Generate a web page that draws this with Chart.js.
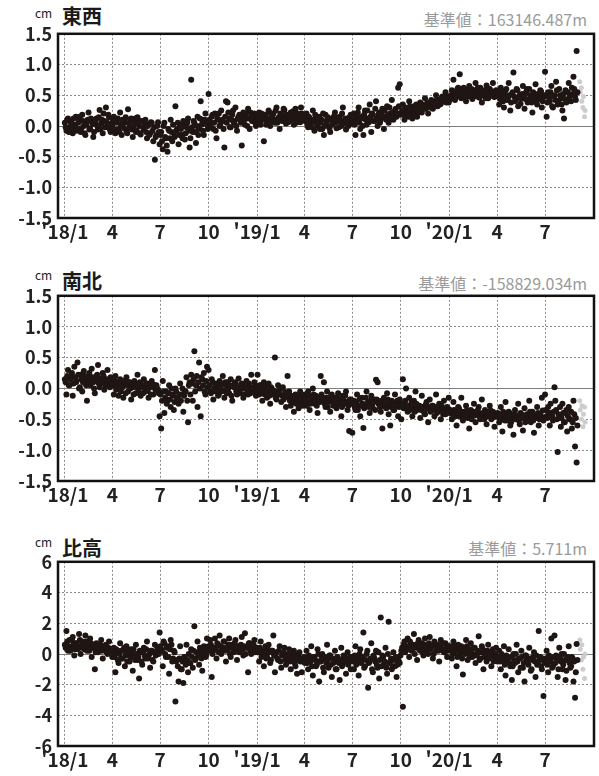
<!DOCTYPE html>
<html lang="ja">
<head>
<meta charset="UTF-8">
<title>GNSS 基線変化</title>
<script src="https://cdn.jsdelivr.net/npm/chart.js@4"></script>
<style>
  body { margin: 0; background: #fff; width: 599px; height: 776px; position: relative; overflow: hidden;
         font-family: "Noto Sans CJK JP", "Noto Sans", sans-serif; }
  canvas { position: absolute; left: 0; }
  .unit, .ttl, .base { position: absolute; line-height: 1; white-space: nowrap; }
  .unit { left: 35px; font-size: 12px; color: #222; }
  .ttl { left: 62px; font-size: 20px; font-weight: bold; color: #1a1a1a; }
  .base { right: 12px; font-size: 16px; color: #9a9a9a; }
</style>
</head>
<body>
  <div class="unit" style="top:7px">cm</div>
  <div class="ttl" style="top:6px">東西</div>
  <div class="base" style="top:11px">基準値：163146.487m</div>
  <canvas id="ew" width="599" height="231" style="top:17px"></canvas>

  <div class="unit" style="top:269px">cm</div>
  <div class="ttl" style="top:271px">南北</div>
  <div class="base" style="top:275px">基準値：-158829.034m</div>
  <canvas id="ns" width="599" height="232" style="top:279px"></canvas>

  <div class="unit" style="top:536px">cm</div>
  <div class="ttl" style="top:538px">比高</div>
  <div class="base" style="top:540px">基準値：5.711m</div>
  <canvas id="ud" width="599" height="231" style="top:545px"></canvas>

<script>
// 2018/1/1 からの日数。A は 0,3,6…日、B は 1.5 日ずらした値
const sampleStep = 3;
const offsetB = 1.5;
const tickDays = [0, 90, 181, 273, 365, 455, 546, 638, 730, 821, 912];
const tickLabels = ["'18/1", "4", "7", "10", "'19/1", "4", "7", "10", "'20/1", "4", "7"];
const xMin = -13;
const xMax = 1005;

// 東西 (cm)
const ewA = [
  // 2018 1-3
  0.05,-0.08,0.12,-0.02,0.08,-0.12,0.02,0.15,-0.05,0.1,
  -0.1,0.18,0.0,-0.15,0.06,0.22,-0.04,0.1,-0.18,0.03,
  0.12,-0.06,0.26,0.04,-0.12,0.08,0.3,-0.02,0.14,-0.1,
  // 4-6
  0.02,0.15,-0.12,0.08,-0.05,0.22,-0.15,0.04,0.1,-0.08,
  0.27,-0.02,0.12,-0.18,0.06,-0.1,0.14,0.0,-0.14,0.08,
  -0.06,0.1,-0.2,0.02,-0.12,0.05,-0.25,-0.55,-0.15,0.06,
  // 7-9
  -0.3,-0.1,-0.38,0.05,-0.2,-0.42,-0.08,0.1,-0.25,-0.12,
  0.32,-0.05,-0.3,0.02,-0.15,0.08,-0.22,-0.02,0.12,-0.35,
  0.75,-0.1,0.05,-0.28,0.15,-0.05,0.4,0.1,-0.15,0.2,0.02,
  // 10-12
  0.52,0.05,0.15,-0.05,0.2,-0.2,0.1,0.0,0.25,0.08,
  -0.35,0.4,0.38,0.12,-0.02,0.18,0.05,0.3,-0.08,0.15,
  0.1,-0.32,0.22,0.02,0.12,0.28,-0.05,0.16,0.08,0.2,0.0,
  // 2019 1-3
  0.1,0.22,0.02,0.15,-0.25,0.18,0.08,0.25,0.0,0.14,
  0.2,0.05,0.3,0.1,-0.05,0.18,0.12,0.26,0.04,0.16,
  0.08,0.22,0.12,0.02,0.28,0.1,0.18,0.06,0.2,0.14,
  // 4-6
  0.08,0.2,-0.02,0.12,0.05,0.25,-0.08,0.1,0.0,0.15,
  0.05,-0.05,-0.15,0.18,0.02,0.1,-0.1,0.12,0.06,0.22,
  -0.04,0.08,0.15,0.0,0.3,0.05,-0.06,0.12,0.02,0.18,
  // 7-9
  0.05,0.2,-0.15,0.1,0.3,-0.05,0.15,-0.15,0.25,0.02,
  0.12,0.35,-0.1,0.18,0.08,0.4,0.0,0.22,0.1,0.28,
  -0.05,0.15,0.32,0.05,0.2,0.42,0.1,0.25,0.15,0.62,0.68,
  // 10-12
  0.2,0.35,0.1,0.28,0.18,0.4,0.22,0.12,0.32,0.25,
  0.15,0.3,0.38,0.22,0.28,0.45,0.3,0.2,0.35,0.42,
  0.28,0.38,0.5,0.32,0.42,0.36,0.48,0.4,0.55,0.44,0.38,
  // 2020 1-3
  0.48,0.58,0.75,0.42,0.55,0.62,0.84,0.45,0.52,0.6,
  0.4,0.55,0.65,0.5,0.44,0.58,0.7,0.48,0.53,0.62,
  0.38,0.56,0.5,0.66,0.45,0.6,0.52,0.7,0.47,0.58,
  // 4-6
  0.55,0.35,0.62,0.48,0.3,0.58,0.42,0.7,0.25,0.52,
  0.87,0.4,0.6,0.32,0.5,0.45,0.65,0.28,0.55,0.38,
  0.6,0.45,0.22,0.52,0.68,0.35,0.48,0.58,0.3,0.5,
  // 7-9
  0.88,0.15,0.55,0.4,0.65,0.3,0.5,0.72,0.35,0.6,
  0.45,0.25,0.12,0.58,0.42,0.7,0.5,0.62,0.8,0.48,1.22
];
const ewB = [
  // 2018 1-3
  -0.02,0.1,-0.1,0.06,-0.05,0.12,0.0,-0.08,0.05,0.15,
  -0.04,0.08,-0.12,0.02,0.1,-0.06,0.12,0.04,-0.1,0.08,
  0.0,0.14,-0.05,0.1,0.2,-0.02,0.06,0.18,-0.06,0.04,
  // 4-6
  0.08,-0.06,0.05,0.12,-0.1,0.02,0.1,-0.04,0.14,-0.12,
  0.04,0.1,-0.06,0.0,0.12,-0.08,0.05,-0.12,0.08,-0.02,
  0.05,-0.1,0.0,-0.15,0.06,-0.08,-0.02,-0.18,0.0,-0.1,
  // 7-9
  -0.15,-0.25,0.0,-0.18,-0.32,-0.05,-0.2,-0.1,0.02,-0.18,
  -0.08,0.05,-0.15,-0.05,-0.2,0.0,-0.12,0.05,-0.08,-0.2,
  -0.02,0.08,-0.1,0.0,-0.15,0.12,0.02,-0.08,0.1,0.05,-0.05,
  // 10-12
  0.1,-0.02,0.18,0.05,-0.08,0.12,0.2,0.02,0.1,-0.05,
  0.15,0.05,0.22,-0.02,0.1,0.25,0.08,0.0,0.12,0.18,
  0.05,0.15,0.1,0.2,0.0,0.12,0.22,0.08,0.15,0.05,0.18,
  // 2019 1-3
  0.15,0.05,0.2,0.1,0.18,0.02,0.12,0.22,0.08,0.16,
  0.1,0.25,0.05,0.14,0.2,0.08,0.28,0.12,0.18,0.06,
  0.15,0.1,0.24,0.18,0.05,0.2,0.12,0.3,0.1,0.16,
  // 4-6
  0.12,0.02,0.15,0.08,-0.02,0.1,0.18,0.04,0.12,-0.05,
  0.1,0.2,0.0,0.08,0.14,-0.04,0.1,0.02,0.16,0.06,
  0.12,-0.02,0.08,0.2,0.04,0.12,0.1,0.0,0.15,0.08,
  // 7-9
  0.1,0.02,0.15,0.22,0.05,0.12,0.0,0.18,0.1,0.25,
  0.06,0.15,0.2,0.08,0.28,0.12,0.18,0.05,0.22,0.14,
  0.25,0.1,0.18,0.3,0.12,0.22,0.15,0.28,0.2,0.32,0.18,
  // 10-12
  0.25,0.18,0.3,0.22,0.15,0.32,0.25,0.2,0.28,0.35,
  0.22,0.3,0.26,0.35,0.32,0.28,0.38,0.34,0.3,0.4,
  0.36,0.32,0.42,0.38,0.35,0.45,0.4,0.46,0.38,0.48,0.42,
  // 2020 1-3
  0.5,0.45,0.55,0.52,0.6,0.48,0.56,0.5,0.62,0.46,
  0.54,0.58,0.48,0.6,0.52,0.5,0.56,0.62,0.46,0.55,
  0.5,0.58,0.45,0.54,0.6,0.5,0.56,0.48,0.55,0.52,
  // 4-6
  0.5,0.44,0.56,0.4,0.52,0.6,0.45,0.5,0.38,0.55,
  0.48,0.42,0.58,0.46,0.36,0.52,0.5,0.44,0.6,0.42,
  0.5,0.38,0.55,0.46,0.4,0.52,0.44,0.56,0.4,0.48,
  // 7-9
  0.5,0.38,0.46,0.55,0.32,0.48,0.42,0.58,0.4,0.5,
  0.35,0.52,0.44,0.38,0.55,0.46,0.4,0.52,0.6,0.42,0.55
];

// 南北 (cm)
const nsA = [
  // 2018 1-3
  0.15,-0.1,0.3,0.05,0.2,-0.12,0.35,0.1,0.42,0.0,
  0.22,-0.05,0.28,0.12,-0.2,0.18,0.05,0.32,0.1,-0.08,
  0.2,0.38,0.02,0.15,0.25,-0.02,0.12,0.3,0.08,0.18,
  // 4-6
  0.1,-0.1,0.2,0.0,-0.12,0.15,0.05,-0.15,0.08,0.18,
  -0.05,0.1,-0.18,0.02,0.12,-0.08,0.22,0.0,-0.12,0.05,
  0.15,-0.05,0.08,-0.15,0.02,0.12,-0.1,0.3,0.05,-0.02,
  // 7-9
  -0.45,-0.65,0.12,-0.4,-0.05,-0.2,0.05,-0.3,-0.1,-0.35,
  0.0,-0.15,-0.25,0.08,-0.1,-0.38,-0.05,0.18,-0.55,0.1,
  0.22,-0.2,0.6,0.05,-0.3,0.42,-0.45,0.15,0.25,-0.1,0.35,
  // 10-12
  0.3,-0.05,0.15,-0.18,0.08,0.0,-0.12,0.12,-0.05,0.2,
  -0.15,0.05,0.1,-0.08,0.15,-0.2,0.02,0.1,-0.1,0.16,
  -0.02,0.08,-0.15,0.05,0.12,-0.1,0.0,0.22,-0.06,0.1,-0.12,
  // 2019 1-3
  0.22,-0.1,0.05,-0.2,0.1,-0.05,-0.15,0.08,-0.25,0.0,
  -0.1,0.5,-0.18,0.05,-0.08,-0.22,0.02,-0.12,-0.3,0.2,
  -0.05,-0.28,-0.15,-0.38,-0.1,-0.2,-0.32,-0.05,-0.25,-0.15,
  // 4-6
  -0.1,-0.28,-0.05,-0.35,-0.18,0.0,-0.25,-0.12,-0.4,-0.2,
  0.2,-0.15,0.1,-0.3,-0.05,-0.22,-0.38,-0.1,-0.28,-0.15,
  -0.32,-0.08,-0.2,-0.45,-0.12,-0.25,-0.05,-0.35,-0.69,-0.18,
  // 7-9
  -0.72,-0.2,-0.35,-0.1,-0.28,-0.45,-0.15,-0.64,-0.3,-0.05,
  -0.22,-0.4,-0.12,-0.32,-0.18,0.14,0.1,-0.25,-0.38,-0.65,
  -0.15,-0.3,-0.08,-0.42,-0.6,-0.2,-0.35,-0.1,-0.28,-0.45,-0.18,
  // 10-12
  -0.5,0.15,-0.25,0.0,-0.38,-0.15,-0.32,-0.45,-0.2,-0.05,
  -0.35,-0.28,-0.48,-0.12,-0.3,-0.42,-0.22,-0.55,-0.18,-0.35,
  -0.28,-0.45,-0.1,-0.38,-0.25,-0.5,-0.32,-0.2,-0.42,-0.3,-0.15,
  // 2020 1-3
  -0.35,-0.5,-0.22,-0.42,-0.6,-0.3,-0.45,-0.15,-0.52,-0.38,
  -0.28,-0.48,-0.65,-0.35,-0.42,-0.25,-0.55,-0.4,-0.3,-0.5,
  -0.18,-0.45,-0.35,-0.58,-0.42,-0.28,-0.5,-0.38,-0.62,-0.45,
  // 4-6
  -0.4,-0.55,-0.3,-0.7,-0.45,-0.22,-0.52,-0.38,-0.6,-0.48,
  -0.75,-0.35,-0.5,-0.25,-0.58,-0.42,-0.68,-0.32,-0.5,-0.45,
  -0.2,-0.55,-0.38,-0.72,-0.48,-0.3,-0.6,-0.42,-0.15,-0.52,
  // 7-9
  -0.1,-0.45,-0.3,-0.6,-0.4,-0.52,0.02,-0.35,-1.03,-0.48,
  -0.62,-0.25,-0.55,-0.4,-0.7,-0.3,-0.5,-0.65,-0.2,-0.94,-1.2
];
const nsB = [
  // 2018 1-3
  0.1,0.2,0.05,0.15,0.25,0.08,0.18,0.12,0.22,0.02,
  0.15,0.1,0.2,0.05,0.14,0.25,0.1,0.18,0.0,0.12,
  0.22,0.08,0.16,0.1,0.2,0.05,0.15,0.12,0.02,0.1,
  // 4-6
  0.05,0.12,-0.02,0.08,0.1,-0.05,0.02,0.12,-0.08,0.05,
  0.1,0.0,0.06,-0.1,0.08,0.02,-0.05,0.1,0.04,-0.08,
  0.0,0.08,-0.04,0.05,-0.1,0.02,0.06,-0.02,0.0,-0.08,
  // 7-9
  -0.1,-0.2,-0.05,-0.15,-0.25,-0.08,-0.18,0.0,-0.12,-0.22,
  -0.05,-0.15,-0.1,-0.2,0.0,-0.12,-0.05,-0.2,0.05,-0.1,
  0.08,0.15,-0.05,0.2,0.1,0.0,0.18,0.05,-0.05,0.12,0.02,
  // 10-12
  0.05,-0.08,0.1,0.0,-0.05,0.08,-0.1,0.02,0.06,-0.04,
  0.1,-0.08,0.0,0.05,-0.12,0.04,0.08,-0.05,0.02,-0.08,
  0.06,0.0,-0.1,0.04,-0.04,0.08,-0.08,0.02,0.0,-0.05,0.04,
  // 2019 1-3
  -0.02,0.05,-0.08,0.0,-0.1,0.04,-0.05,-0.12,0.02,-0.08,
  -0.04,-0.15,-0.05,-0.1,0.0,-0.12,-0.18,-0.06,-0.14,-0.1,
  -0.2,-0.12,-0.22,-0.15,-0.25,-0.18,-0.12,-0.22,-0.28,-0.2,
  // 4-6
  -0.15,-0.22,-0.12,-0.25,-0.18,-0.1,-0.2,-0.28,-0.15,-0.22,
  -0.1,-0.2,-0.25,-0.15,-0.3,-0.18,-0.12,-0.22,-0.2,-0.28,
  -0.15,-0.25,-0.18,-0.3,-0.2,-0.12,-0.22,-0.28,-0.18,-0.25,
  // 7-9
  -0.2,-0.3,-0.22,-0.35,-0.18,-0.28,-0.25,-0.32,-0.15,-0.25,
  -0.3,-0.2,-0.28,-0.22,-0.35,-0.18,-0.25,-0.3,-0.2,-0.28,
  -0.24,-0.32,-0.18,-0.26,-0.3,-0.22,-0.35,-0.25,-0.2,-0.3,-0.26,
  // 10-12
  -0.25,-0.32,-0.2,-0.3,-0.28,-0.35,-0.22,-0.3,-0.38,-0.25,
  -0.32,-0.28,-0.35,-0.3,-0.4,-0.26,-0.33,-0.3,-0.38,-0.28,
  -0.35,-0.3,-0.4,-0.32,-0.36,-0.28,-0.42,-0.34,-0.38,-0.32,-0.4,
  // 2020 1-3
  -0.38,-0.42,-0.35,-0.45,-0.4,-0.32,-0.44,-0.38,-0.48,-0.4,
  -0.36,-0.45,-0.42,-0.5,-0.38,-0.44,-0.4,-0.35,-0.46,-0.42,
  -0.4,-0.5,-0.38,-0.45,-0.42,-0.36,-0.48,-0.4,-0.44,-0.46,
  // 4-6
  -0.42,-0.5,-0.45,-0.38,-0.52,-0.44,-0.48,-0.4,-0.55,-0.46,
  -0.42,-0.5,-0.44,-0.52,-0.4,-0.48,-0.45,-0.55,-0.42,-0.5,
  -0.38,-0.46,-0.52,-0.44,-0.48,-0.4,-0.5,-0.45,-0.36,-0.48,
  // 7-9
  -0.35,-0.48,-0.4,-0.25,-0.45,-0.38,-0.2,-0.5,-0.42,-0.3,
  -0.48,-0.4,-0.55,-0.35,-0.45,-0.5,-0.38,-0.55,-0.42,-0.48,-0.6
];

// 比高 (cm)
const udA = [
  // 2018 1-3
  0.6,1.5,0.2,0.9,0.4,1.1,-0.1,0.7,0.3,1.3,
  0.0,0.8,0.5,1.2,0.2,0.6,1.0,-0.2,0.4,-1.0,
  0.7,0.1,0.5,0.9,-0.3,0.3,0.6,0.0,0.8,0.2,
  // 4-6
  -0.2,0.4,-1.2,0.1,-0.6,0.7,-0.3,0.2,-0.8,0.5,
  0.0,-0.5,0.3,-1.1,-0.2,0.6,-0.4,-1.6,0.1,-0.7,
  0.4,-0.3,0.8,-0.1,-0.9,0.2,-0.5,0.6,0.0,0.3,
  // 7-9
  1.4,0.3,-0.8,0.7,-0.2,0.5,-1.3,0.9,-0.5,0.2,
  -3.1,-0.4,-1.8,0.5,-1.0,-1.9,-0.2,0.6,-1.2,-0.6,
  0.3,-0.9,1.8,-0.3,0.8,-0.7,0.2,-1.1,0.5,-0.2,1.0,
  // 10-12
  0.5,0.9,-1.5,0.2,1.0,-0.3,0.6,1.2,0.0,0.4,
  0.8,-0.5,0.3,1.0,-0.2,0.6,0.1,0.9,-0.4,0.5,
  0.2,1.1,-0.1,1.35,0.4,-1.2,0.7,0.0,0.5,0.9,0.2,
  // 2019 1-3
  0.3,-0.5,0.8,0.0,-0.8,0.5,-0.2,0.6,-0.6,0.2,
  1.2,-1.2,0.1,-0.4,0.5,-0.9,0.0,0.4,-0.7,-0.2,
  0.3,-1.0,-0.4,0.2,-0.8,-1.3,0.0,-0.5,-1.2,-0.3,
  // 4-6
  -0.6,0.2,-1.0,-0.3,0.5,-1.4,-0.2,-0.8,0.3,-1.8,
  -0.5,0.0,-1.2,-0.4,0.6,-0.9,-0.1,-1.5,-0.6,0.2,
  -1.0,-0.3,-1.7,0.4,-0.7,-0.2,-1.3,0.1,-0.5,-1.0,
  // 7-9
  -0.2,-1.0,0.5,-0.6,-1.4,0.3,-0.4,1.4,-0.8,0.0,
  -2.2,-0.5,0.7,-1.2,-0.3,0.2,-0.9,-1.6,2.37,-0.1,
  -0.7,0.4,-1.3,2.1,-0.5,-1.0,0.1,-0.8,-1.5,-0.3,-0.6,
  // 10-12
  0.2,-3.45,0.8,0.4,1.0,-0.2,0.6,0.3,1.3,0.5,
  -0.4,0.9,0.2,0.7,-0.1,1.0,0.4,0.0,1.1,0.5,
  -0.3,0.8,0.2,0.6,-0.5,0.9,0.3,0.1,0.7,-0.2,0.5,
  // 2020 1-3
  0.4,-0.3,0.8,0.1,-0.8,0.6,-0.1,0.5,-1.35,0.2,
  0.9,-0.4,0.3,0.7,-0.2,0.4,-0.6,0.0,1.15,-0.3,
  0.5,-1.0,0.2,-0.5,0.6,0.0,-0.8,0.3,-0.2,0.4,
  // 4-6
  -0.5,0.2,-1.0,-0.2,0.5,-1.4,-0.4,0.3,-0.8,-1.7,
  0.0,-0.6,0.6,-1.2,-0.3,0.2,-0.9,-1.8,-0.1,-0.5,
  0.4,-1.1,-0.4,0.1,-1.5,-0.7,1.5,-0.2,-1.0,-2.75,
  // 7-9
  -0.6,0.2,-1.2,-0.3,1.0,-0.8,1.2,-0.1,-1.5,0.4,
  -0.5,-1.0,0.0,-1.7,-0.4,0.5,-0.9,-0.2,-1.8,-2.85,0.65
];
const udB = [
  // 2018 1-3
  0.4,0.8,0.5,0.2,0.9,0.6,0.3,0.7,0.5,0.9,
  0.4,0.6,0.3,0.8,0.5,0.2,0.7,0.4,0.6,0.1,
  0.5,0.3,0.6,0.2,0.4,0.5,0.1,0.4,0.3,0.2,
  // 4-6
  0.1,-0.2,0.3,-0.4,0.0,0.2,-0.3,0.4,-0.1,-0.5,
  0.2,-0.2,0.1,0.3,-0.4,0.0,-0.2,0.2,-0.5,0.1,
  -0.1,0.3,-0.3,0.0,0.2,-0.4,0.1,-0.1,0.4,0.0,
  // 7-9
  0.5,0.2,0.8,0.0,0.4,-0.2,0.3,0.6,-0.3,0.1,
  -0.5,-0.8,-0.3,-1.0,-0.5,-0.2,-0.7,-0.4,0.0,-0.6,
  -0.2,0.2,-0.4,0.1,-0.1,0.4,-0.3,0.0,0.3,-0.1,0.2,
  // 10-12
  0.2,0.6,0.0,0.4,0.3,0.7,0.1,0.5,0.3,0.8,
  0.2,0.4,0.6,0.0,0.5,0.3,0.7,0.2,0.4,0.1,
  0.6,0.3,0.5,0.0,0.4,0.7,0.2,0.3,0.6,0.1,0.4,
  // 2019 1-3
  0.1,0.4,-0.2,0.2,0.0,-0.3,0.3,0.1,-0.4,0.2,
  -0.1,0.0,-0.3,0.2,-0.5,-0.1,0.1,-0.4,-0.2,0.0,
  -0.5,-0.3,0.0,-0.6,-0.2,-0.4,0.1,-0.3,-0.5,-0.2,
  // 4-6
  -0.3,-0.6,-0.1,-0.5,-0.8,-0.2,-0.4,-0.7,0.0,-0.5,
  -0.3,-0.9,-0.2,-0.6,-0.4,-0.1,-0.7,-0.3,-0.5,-1.0,
  -0.2,-0.6,-0.4,-0.8,-0.1,-0.5,-0.3,-0.7,-0.2,-0.4,
  // 7-9
  -0.5,-0.1,-0.7,-0.3,0.0,-0.6,-0.2,-0.9,-0.4,0.2,
  -0.6,-0.3,-1.0,-0.1,-0.5,-0.7,0.1,-0.4,-0.8,-0.2,
  -0.5,-0.9,0.0,-0.6,-0.3,-0.8,-0.4,-0.2,-0.7,-0.5,-0.1,
  // 10-12
  0.4,0.6,0.1,0.5,0.3,0.8,0.2,0.6,0.0,0.4,
  0.7,0.3,0.5,0.1,0.6,0.4,0.2,0.7,0.3,0.5,
  0.0,0.6,0.4,0.2,0.5,0.3,0.7,0.1,0.4,0.2,0.5,
  // 2020 1-3
  0.3,0.0,0.5,0.2,-0.2,0.4,0.1,-0.3,0.3,0.0,
  0.5,0.1,-0.2,0.3,0.0,0.4,-0.1,0.2,-0.4,0.1,
  0.3,-0.2,0.0,0.2,-0.3,0.1,-0.1,-0.5,0.0,-0.2,
  // 4-6
  -0.2,-0.5,0.0,-0.4,-0.7,-0.1,-0.3,-0.6,-0.2,-0.8,
  -0.4,0.0,-0.5,-0.3,-0.9,-0.2,-0.6,-0.1,-0.4,-0.7,
  -0.3,-1.0,-0.2,-0.5,-0.1,-0.6,-0.4,-0.8,-0.3,-0.5,
  // 7-9
  -0.3,-0.7,-0.1,-0.5,-0.9,-0.2,-0.6,-0.4,-1.0,-0.3,
  0.0,-0.7,-0.4,-1.1,-0.2,-0.6,-0.8,-0.3,-0.5,-1.2,-0.4
];

// 速報値（灰色）
const prelimDays = [978, 979, 981, 982, 984, 985, 987, 988];
const ewPrelim = [0.72, 0.55, 0.62, 0.4, 0.3, 0.48, 0.15, 0.25];
const nsPrelim = [-0.2, -0.35, -0.5, -0.28, -0.62, -0.42, -0.3, -0.55];
const udPrelim = [0.9, 0.3, -0.4, 0.6, -1.0, -0.2, -1.6, 0.0];

const FONT = '"Noto Sans CJK JP", "Noto Sans", sans-serif';

// 枠と0の線
const framePlugin = {
  id: 'frame',
  beforeDatasetsDraw(chart) {
    const { ctx, chartArea: a, scales } = chart;
    const y0 = Math.round(scales.y.getPixelForValue(0)) + 0.5;
    ctx.save();
    ctx.strokeStyle = '#7d7d7d';
    ctx.lineWidth = 1;
    ctx.beginPath();
    ctx.moveTo(a.left, y0);
    ctx.lineTo(a.right, y0);
    ctx.stroke();
    ctx.restore();
  },
  afterDatasetsDraw(chart) {
    const { ctx, chartArea: a } = chart;
    ctx.save();
    ctx.strokeStyle = '#111';
    ctx.lineWidth = 2.5;
    ctx.strokeRect(a.left, a.top, a.right - a.left, a.bottom - a.top);
    ctx.restore();
  }
};

function toPoints(a, b) {
  const pts = a.map((v, i) => ({ x: i * sampleStep, y: v }));
  b.forEach((v, i) => pts.push({ x: i * sampleStep + offsetB, y: v }));
  return pts;
}

function drawPanel(id, a, b, prelim, yMin, yMax, yStep, digits) {
  new Chart(document.getElementById(id), {
    type: 'scatter',
    data: {
      datasets: [
        {
          data: toPoints(a, b),
          backgroundColor: '#1f1512',
          borderWidth: 0,
          pointRadius: 3
        },
        {
          data: prelim.map((v, i) => ({ x: prelimDays[i], y: v })),
          backgroundColor: '#cdcdcd',
          borderWidth: 0,
          pointRadius: 2.5
        }
      ]
    },
    options: {
      responsive: false,
      animation: false,
      events: [],
      layout: { padding: { top: 14, right: 5, left: 0, bottom: 0 } },
      plugins: { legend: { display: false }, tooltip: { enabled: false } },
      scales: {
        x: {
          type: 'linear',
          min: xMin,
          max: xMax,
          afterBuildTicks: (s) => { s.ticks = tickDays.map((d) => ({ value: d })); },
          afterFit: (s) => { s.height = 30; },
          ticks: {
            autoSkip: false,
            maxRotation: 0,
            padding: 2,
            color: '#222',
            font: { family: FONT, size: 19, weight: 'bold' },
            callback: (v, i) => tickLabels[i]
          },
          grid: { color: '#8a8a8a', lineWidth: 1, drawTicks: false },
          border: { display: false, dash: [2, 2] }
        },
        y: {
          min: yMin,
          max: yMax,
          afterFit: (s) => { s.width = 58; },
          ticks: {
            stepSize: yStep,
            padding: 6,
            color: '#222',
            font: { family: FONT, size: 18, weight: 'bold' },
            callback: (v) => Number(v).toFixed(digits)
          },
          grid: {
            color: (c) => (c.tick && c.tick.value === 0 ? 'rgba(0,0,0,0)' : '#8a8a8a'),
            lineWidth: 1,
            drawTicks: false
          },
          border: { display: false, dash: [2, 2] }
        }
      }
    },
    plugins: [framePlugin]
  });
}

drawPanel('ew', ewA, ewB, ewPrelim, -1.5, 1.5, 0.5, 1);
drawPanel('ns', nsA, nsB, nsPrelim, -1.5, 1.5, 0.5, 1);
drawPanel('ud', udA, udB, udPrelim, -6, 6, 2, 0);
</script>
</body>
</html>
